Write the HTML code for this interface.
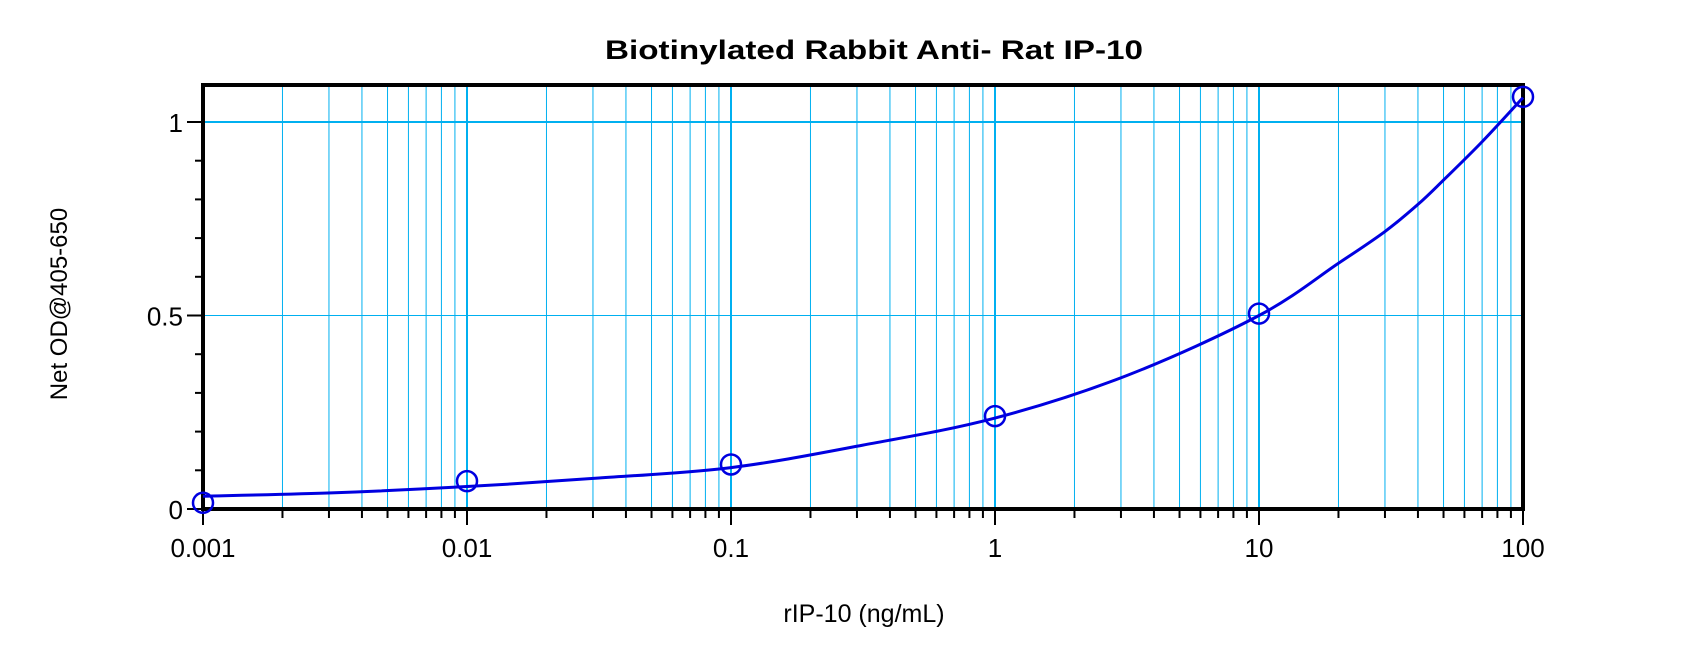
<!DOCTYPE html>
<html><head><meta charset="utf-8"><style>
html,body{margin:0;padding:0;background:#fff}
svg{display:block}
text{font-family:"Liberation Sans",Arial,sans-serif}
</style></head><body>
<svg id="chart" width="1700" height="647" viewBox="0 0 1700 647">
<g id="grid"></g>
<g id="axes"></g>
<g id="series"></g>
<text x="874" y="59" text-anchor="middle" font-size="27" font-weight="bold" textLength="538" lengthAdjust="spacingAndGlyphs">Biotinylated Rabbit Anti- Rat IP-10</text>
<text x="864" y="622" text-anchor="middle" font-size="25">rIP-10 (ng/mL)</text>
<text transform="translate(67,304) rotate(-90)" text-anchor="middle" font-size="24">Net OD@405-650</text>
</svg>
<script>
const xTickValues=[0.001,0.01,0.1,1,10,100];
const xTickLabels=["0.001","0.01","0.1","1","10","100"];
const yTickValues=[0,0.5,1];
const yTickLabels=["0","0.5","1"];
const pointX=[0.001,0.01,0.1,1,10,100];
const pointY=[0.016,0.072,0.115,0.24,0.505,1.065];
const curveX=[0.001,0.00316,0.01,0.0316,0.1,0.316,1,3.16,10,20,30,40,50,70,100];
const curveY=[0.033,0.042,0.058,0.08,0.107,0.165,0.235,0.345,0.50,0.635,0.717,0.787,0.85,0.949,1.063];

const L=203,R=1523,T=85,B=509;
const xMin=-3,xMax=2;
const xs=v=>L+(Math.log10(v)-xMin)/(xMax-xMin)*(R-L);
const ys=v=>B-v/1.0*(B-122);
const NS="http://www.w3.org/2000/svg";
function mk(tag,attrs,parent){const e=document.createElementNS(NS,tag);for(const k in attrs)e.setAttribute(k,attrs[k]);parent.appendChild(e);return e;}
const grid=document.getElementById('grid'),axes=document.getElementById('axes'),series=document.getElementById('series');

for(let d=xMin;d<xMax;d++){
  for(let m=1;m<=9;m++){
    const v=m*Math.pow(10,d);const x=xs(v);
    if(m>1){
      const g=mk('line',{x1:x,x2:x,y1:T,y2:B,stroke:'#00b0f0','stroke-width':1},grid);
      
      
    }
    const t=mk('line',{x1:x,x2:x,y1:B,y2:B+(m===1?16:9),stroke:'#000','stroke-width':2},axes);
    
    
  }
}
xTickValues.forEach((v,i)=>{
  const x=xs(v);
  if(i>0&&i<xTickValues.length-1){
    const g=mk('line',{x1:x,x2:x,y1:T,y2:B,stroke:'#00b0f0','stroke-width':2},grid);
    
    
  }
  const t=mk('text',{x:x,y:557,'text-anchor':'middle','font-size':26},axes);
  t.textContent=xTickLabels[i];
  
  
});
mk('line',{x1:R,x2:R,y1:B,y2:B+16,stroke:'#000','stroke-width':2},axes);
for(let k=1;k<=10;k++){
  const y=ys(k/10);
  const t=mk('line',{x1:L-8,x2:L,y1:y,y2:y,stroke:'#000','stroke-width':2},axes);
  
  
}
yTickValues.forEach((v,i)=>{
  const y=ys(v);
  if(v>0){
    const g=mk('line',{x1:L,x2:R,y1:y,y2:y,stroke:'#00b0f0','stroke-width':v===1?2:1},grid);
    
    
  }
  const tk=mk('line',{x1:L-16,x2:L,y1:y,y2:y,stroke:'#000','stroke-width':2},axes);
  
  
  const t=mk('text',{x:L-20,y:y+10,'text-anchor':'end','font-size':26},axes);
  t.textContent=yTickLabels[i];
  
  
});
const fr=mk('rect',{x:L,y:T,width:R-L,height:B-T,fill:'none',stroke:'#000','stroke-width':4},axes);


const P=curveX.map((v,i)=>[xs(v),ys(curveY[i])]);
let d='M'+P[0][0]+','+P[0][1];
for(let i=0;i<P.length-1;i++){
  const p0=P[Math.max(0,i-1)],p1=P[i],p2=P[i+1],p3=P[Math.min(P.length-1,i+2)];
  const c1=[p1[0]+(p2[0]-p0[0])/6,p1[1]+(p2[1]-p0[1])/6];
  const c2=[p2[0]-(p3[0]-p1[0])/6,p2[1]-(p3[1]-p1[1])/6];
  d+=' C'+c1[0]+','+c1[1]+' '+c2[0]+','+c2[1]+' '+p2[0]+','+p2[1];
}
const cv=mk('path',{d:d,fill:'none',stroke:'#0000e0','stroke-width':3},series);


pointX.forEach((v,i)=>{
  const c=mk('circle',{cx:xs(v),cy:ys(pointY[i]),r:10,fill:'none',stroke:'#0000e0','stroke-width':2.5},series);
  
  
});
</script>
</body></html>
